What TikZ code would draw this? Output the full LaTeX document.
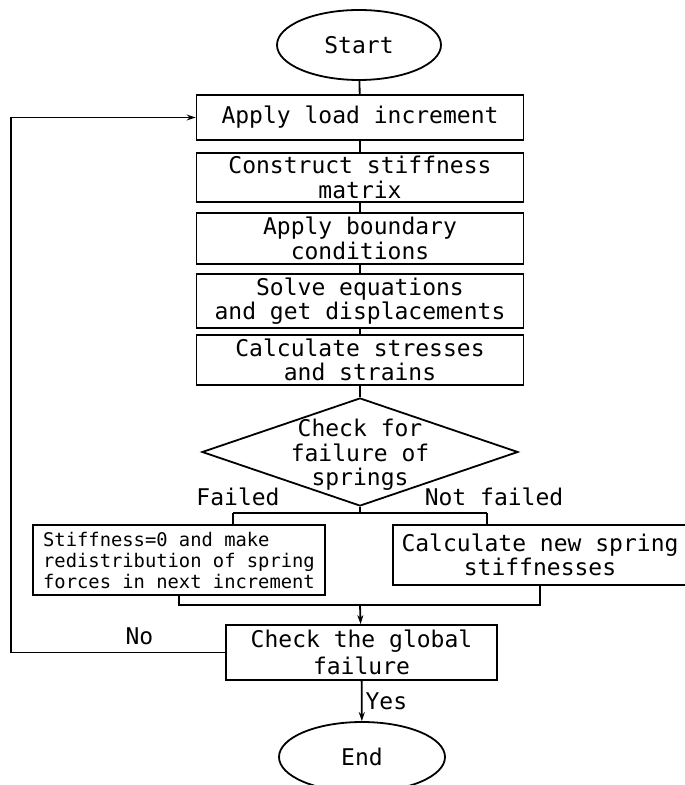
\documentclass[tikz,border=0pt]{standalone}
\usepackage{fontspec}
\setmonofont{DejaVu Sans Mono}
\usetikzlibrary{shapes.geometric, arrows.meta}

\begin{document}
\begin{tikzpicture}[x=0.5pt, y=-0.5pt, line width=0.9pt,
        font=\ttfamily\fontsize{11.5}{12.3}\selectfont,
        >={Stealth[length=4.5pt, width=3pt]},
        box/.style={draw, rectangle, align=center, inner sep=0pt, minimum width=163.5pt},
        term/.style={draw, ellipse, inner sep=0pt, minimum width=82pt, minimum height=35pt}]
        \fill[white] (0,0) rectangle (684,785);
        \useasboundingbox (0,0) rectangle (684,785);

        \node[term] (start) at (359,45) {Start};
        \node[box, minimum height=22.5pt] (load) at (360,117.5) {Apply load increment};
        \node[box, minimum height=24.5pt] (stiff) at (360,177.5) {Construct stiffness\\matrix};
        \node[box, minimum height=25.5pt] (bound) at (360,238.5) {Apply boundary\\conditions};
        \node[box, minimum height=27pt] (solve) at (360,301) {Solve equations\\and get displacements};
        \node[box, minimum height=25pt] (stress) at (360,360) {Calculate stresses\\and strains};

        \node[draw, diamond, inner sep=0pt, minimum width=158pt, minimum height=54pt] (check) at (360,452) {};
        \node[align=center, inner sep=0pt] (checktxt) at (360,455) {Check for\\failure of\\springs};
        \node (failed) at (238,497) {Failed};
        \node (notfailed) at (494,497) {Not failed};

        \node[box, minimum width=146pt, minimum height=35pt, align=left,
            font=\ttfamily\fontsize{9.4}{10.5}\selectfont] (zero) at (179,560)
            {Stiffness=0 and make\\redistribution of spring\\forces in next increment};
        \node[box, minimum width=147pt, minimum height=30pt] (newk) at (540,555) {Calculate new spring\\stiffnesses};

        \node[box, minimum width=135.5pt, minimum height=27.5pt,
            font=\ttfamily\fontsize{11.5}{13.5}\selectfont] (global) at (361.5,652.5) {Check the global\\failure};
        \node[term, minimum width=83pt] (end) at (362,757) {End};

        \coordinate (split) at (360,513);
        \coordinate (splitl) at (233,513);
        \coordinate (splitr) at (487,513);
        \coordinate (merge) at (360,605);
        \coordinate (back) at (11,652.5);

        \draw (start) -- (load);
        \draw (load) -- (stiff);
        \draw (stiff) -- (bound);
        \draw (bound) -- (solve);
        \draw (solve) -- (stress);
        \draw (stress) -- (check);
        \draw (check.south) -- (split);
        \draw (splitl) -- (splitr);
        \draw (splitl) -- (splitl |- zero.north);
        \draw (splitr) -- (splitr |- newk.north);
        \draw (zero.south) |- (merge) -| (newk.south);
        \draw[->] (merge) -- (global);
        \draw[->] (global.west) -- node[above, pos=0.4] {No} (global.west -| back) |- (load.west);
        \draw[->] (global) -- node[right, inner sep=1.5pt] {Yes} (end);
    \end{tikzpicture}
\end{document}
